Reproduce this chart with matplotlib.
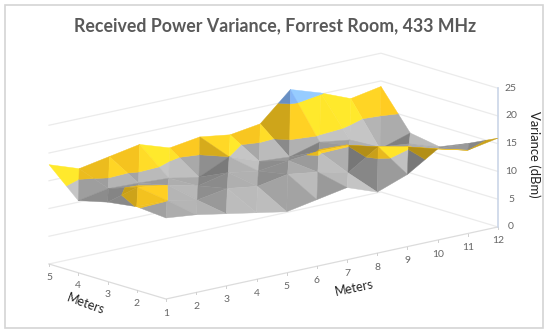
import numpy as np
import matplotlib
matplotlib.use("Agg")
import matplotlib.pyplot as plt
from matplotlib.patches import Rectangle

plt.rcParams['font.family'] = ['Lato', 'DejaVu Sans']

x_meters = [1, 2, 3, 4, 5, 6, 7, 8, 9, 10, 11, 12]
y_meters = [1, 2, 3, 4, 5]
z_ticks = [0, 5, 10, 15, 20, 25]

# variance per row, one list per y position
variance_y1 = [14.6, 14.0, 13.0, 12.0, 11.0, 12.0, 13.0, 11.0, 13.0, 16.4, 15.0, 16.0]
variance_y2 = [15.05, 15.02, 13.9, 14.8, 14.0, 15.0, 14.2, 12.9, 16.4, 15.2, 13.7, 13.5]
variance_y3 = [14.3, 15.8, 15.0, 13.7, 14.9, 14.0, 14.7, 15.2, 15.1, 13.6, 13.0, 11.3]
variance_y4 = [13.0, 14.0, 13.8, 13.5, 12.5, 15.0, 13.0, 12.6, 14.1, 13.3, 10.5, 12.2]
variance_y5 = [17.9, 16.0, 17.0, 18.0, 16.2, 17.0, 16.2, 17.0, 22.0, 20.2, 18.0, 19.0]

band_edges = [0, 5, 10, 15, 20, 25]
band_colors = ["#5B9BD5", "#ED7D31", "#A3A3A3", "#F3C21F", "#7AA9E6"]

Z = np.array([variance_y1, variance_y2, variance_y3, variance_y4, variance_y5])


def project(x, y, z):
    sx = 166 + (x - 1) * 30.18 - (y - 1) * 29.25
    sy = 299 - (x - 1) * 6.55 - (y - 1) * 8.75 - z * 5.55
    return sx, sy


def clip(poly, level, keep_above):
    out = []
    for i in range(len(poly)):
        a = poly[i]
        b = poly[(i + 1) % len(poly)]
        a_in = a[2] >= level if keep_above else a[2] <= level
        b_in = b[2] >= level if keep_above else b[2] <= level
        if a_in:
            out.append(a)
        if a_in != b_in:
            t = (level - a[2]) / (b[2] - a[2])
            out.append(tuple(a[k] + t * (b[k] - a[k]) for k in range(3)))
    return out


def shade(tri):
    p = np.array(tri, dtype=float)
    p[:, 2] *= 0.2
    n = np.cross(p[1] - p[0], p[2] - p[0])
    n = n / np.linalg.norm(n)
    if n[2] < 0:
        n = -n
    return np.clip(0.97 + 0.36 * n[0] - 0.18 * n[1], 0.72, 1.16)


def tint(color, k):
    rgb = np.array(matplotlib.colors.to_rgb(color))
    if k <= 1:
        return tuple(rgb * k)
    return tuple(np.clip(rgb * k + (k - 1) * 0.2, 0, 1))


fig = plt.figure(figsize=(5.5, 3.32), dpi=100)
ax = fig.add_axes([0, 0, 1, 1])
ax.set_xlim(0, 550)
ax.set_ylim(332, 0)
ax.axis("off")

ax.add_patch(Rectangle((4.5, 5), 538.5, 323, fill=False, edgecolor="#D4D4D4", linewidth=1.2))

ax.text(275, 26, "Received Power Variance, Forrest Room, 433 MHz", ha="center", va="center",
        fontsize=12.8, fontweight="bold", color="#595959")

# walls
x0, x1 = x_meters[0], x_meters[-1]
y0, y1 = y_meters[0], y_meters[-1]
for z in z_ticks:
    pts = [project(x0, y1, z), project(x1, y1, z), project(x1, y0, z)]
    ax.plot([p[0] for p in pts], [p[1] for p in pts], color="#EBEBEB", linewidth=0.9, zorder=1)

# floor edges and ticks
pts = [project(x0, y1, 0), project(x0, y0, 0), project(x1, y0, 0)]
ax.plot([p[0] for p in pts], [p[1] for p in pts], color="#DCDCDC", linewidth=0.9, zorder=1)
for x in x_meters:
    sx, sy = project(x, y0, 0)
    ax.plot([sx, sx], [sy, sy + 2], color="#D0D0D0", linewidth=0.7, zorder=1)
    ax.text(sx, sy + 14, str(x), ha="center", va="center", fontsize=7.5, color="#666666")
for y in y_meters[1:]:
    sx, sy = project(x0, y, 0)
    ax.plot([sx, sx], [sy, sy + 2], color="#D0D0D0", linewidth=0.7, zorder=1)
    ax.text(sx, sy + 13, str(y), ha="center", va="center", fontsize=7.5, color="#666666")

# value axis
sx, sy0 = project(x1, y0, z_ticks[0])
sx, sy1 = project(x1, y0, z_ticks[-1])
ax.plot([sx, sx], [sy0, sy1], color="#CBD6E8", linewidth=1.2, zorder=1)
for z in z_ticks:
    sx, sy = project(x1, y0, z)
    ax.text(sx + 13, sy, str(z), ha="center", va="center", fontsize=7.5, color="#666666")

ax.text(534, 154, "Variance (dBm)", rotation=270, ha="center", va="center", fontsize=9.4, color="#222222")
ax.text(354, 288, "Meters", rotation=12, ha="center", va="center", fontsize=9, color="#222222")
ax.text(86, 304, "Meters", rotation=-20, ha="center", va="center", fontsize=9, color="#222222")

# split every cell along the (x, y)-(x+1, y+1) diagonal, back to front
tris = []
for j in range(len(y_meters) - 1):
    for i in range(len(x_meters) - 1):
        a = (x_meters[i], y_meters[j], Z[j, i])
        b = (x_meters[i + 1], y_meters[j], Z[j, i + 1])
        c = (x_meters[i + 1], y_meters[j + 1], Z[j + 1, i + 1])
        d = (x_meters[i], y_meters[j + 1], Z[j + 1, i])
        tris.append((a, b, c))
        tris.append((a, c, d))
tris.sort(key=lambda t: -sum(p[0] * 6.55 + p[1] * 8.75 for p in t))

for tri in tris:
    k = shade(tri)
    for b in range(len(band_colors)):
        poly = clip(list(tri), band_edges[b], True)
        if poly:
            poly = clip(poly, band_edges[b + 1], False)
        if len(poly) < 3:
            continue
        xy = [project(*p) for p in poly]
        col = tint(band_colors[b], k)
        ax.fill([p[0] for p in xy], [p[1] for p in xy], facecolor=col, edgecolor=col,
                linewidth=0.3, zorder=3)

fig.savefig("out.png", dpi=100)
